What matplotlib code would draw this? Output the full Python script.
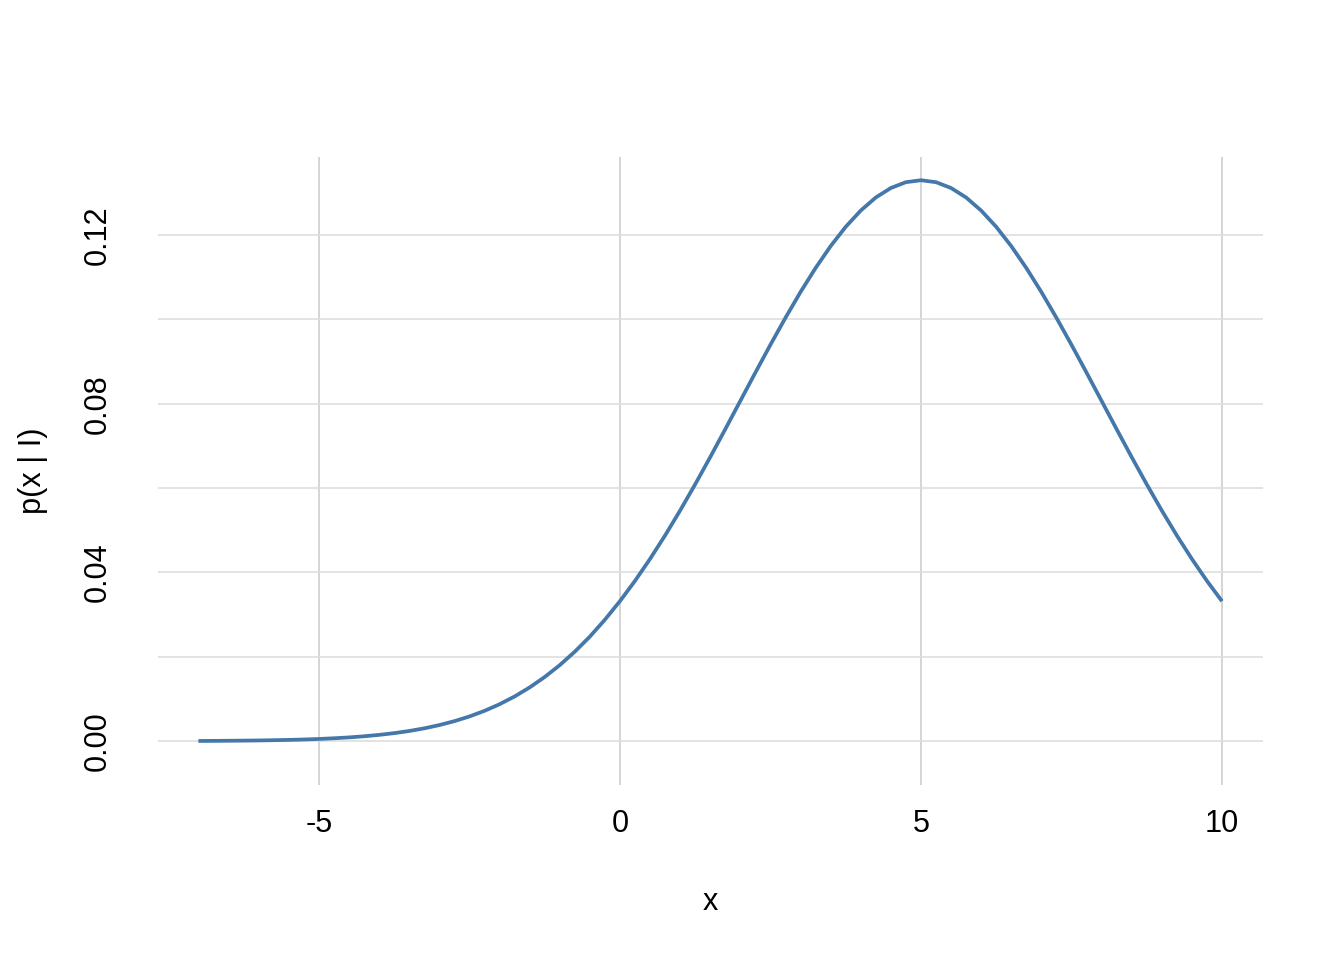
import matplotlib as mpl
import matplotlib.pyplot as plt
import numpy as np

# values, step 0.25
x_vals = [-7.0, -6.75, -6.5, -6.25, -6.0, -5.75, -5.5, -5.25, -5.0, -4.75,
          -4.5, -4.25, -4.0, -3.75, -3.5, -3.25, -3.0, -2.75, -2.5, -2.25,
          -2.0, -1.75, -1.5, -1.25, -1.0, -0.75, -0.5, -0.25, 0.0, 0.25,
          0.5, 0.75, 1.0, 1.25, 1.5, 1.75, 2.0, 2.25, 2.5, 2.75,
          3.0, 3.25, 3.5, 3.75, 4.0, 4.25, 4.5, 4.75, 5.0, 5.25,
          5.5, 5.75, 6.0, 6.25, 6.5, 6.75, 7.0, 7.25, 7.5, 7.75,
          8.0, 8.25, 8.5, 8.75, 9.0, 9.25, 9.5, 9.75, 10.0]
p_vals = [0.00004, 0.00006, 0.00009, 0.00012, 0.00016, 0.00022, 0.00029, 0.00039, 0.00051, 0.00068,
          0.00088, 0.00115, 0.00148, 0.00189, 0.00240, 0.00303, 0.00380, 0.00473, 0.00584, 0.00717,
          0.00874, 0.01058, 0.01272, 0.01519, 0.01800, 0.02119, 0.02476, 0.02877, 0.03317, 0.03798,
          0.04318, 0.04875, 0.05467, 0.06088, 0.06733, 0.07395, 0.08066, 0.08737, 0.09397, 0.10037,
          0.10648, 0.11217, 0.11736, 0.12193, 0.12579, 0.12889, 0.13114, 0.13252, 0.13298, 0.13252,
          0.13114, 0.12889, 0.12579, 0.12193, 0.11736, 0.11217, 0.10648, 0.10037, 0.09397, 0.08737,
          0.08066, 0.07395, 0.06733, 0.06088, 0.05467, 0.04875, 0.04318, 0.03798, 0.03317]

x_ticks = [-5, 0, 5, 10]
x_ticklabels = ['-5', '0', '5', '10']
y_ticks = [0.00, 0.04, 0.08, 0.12]
y_ticklabels = ['0.00', '0.04', '0.08', '0.12']
y_minor = [0.02, 0.06, 0.10]

plt.rcParams['font.family'] = ['Liberation Sans', 'DejaVu Sans']
plt.rcParams['font.size'] = 11.5

fig = plt.figure(figsize=(7, 5), dpi=192)
ax = fig.add_axes([0.1176, 0.1823, 0.8221, 0.6542])

ax.plot(x_vals, p_vals, color='#4477AA', lw=1.4, solid_capstyle='butt', zorder=3)

ax.set_xlim(-7.67, 10.68)
ax.set_ylim(-0.0104, 0.1385)
ax.set_xticks(x_ticks)
ax.set_xticklabels(x_ticklabels)
ax.set_yticks(y_ticks)
ax.set_yticklabels(y_ticklabels, rotation=90, va='center')
ax.set_yticks(y_minor, minor=True)

ax.grid(which='major', axis='x', color='#cccccc', lw=0.6)
ax.grid(which='both', axis='y', color='#dddddd', lw=0.6)
ax.tick_params(which='both', length=0, labelsize=11.5, colors='black')
ax.tick_params(axis='x', pad=9)
ax.tick_params(axis='y', pad=17)
for s in ax.spines.values():
    s.set_visible(False)

ax.set_xlabel('x', fontsize=11.5, labelpad=18)
ax.set_ylabel('p(x | I)', fontsize=11.5, labelpad=13)

fig.savefig('out.png', dpi=192)
